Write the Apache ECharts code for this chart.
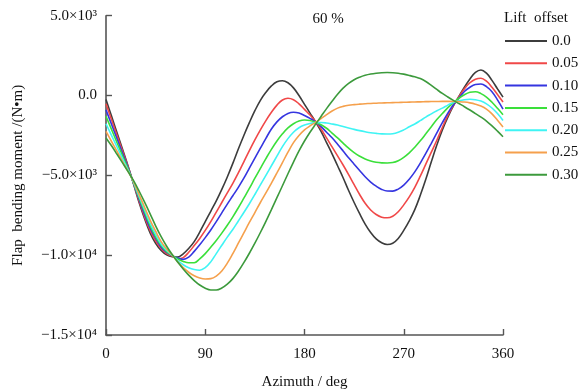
<!DOCTYPE html>
<html>
<head>
<meta charset="utf-8">
<script src="https://cdn.jsdelivr.net/npm/echarts@6/dist/echarts.min.js"></script>
<style>html,body{margin:0;padding:0;background:#fff}#c{width:588px;height:391px}</style>
</head>
<body>
<div id="c"></div>
<script>
const azimuth = [0,5,10,15,20,25,30,35,40,45,50,55,60,65,70,75,80,85,90,95,100,105,110,115,120,125,130,135,140,145,150,155,160,165,170,175,180,185,190,195,200,205,210,215,220,225,230,235,240,245,250,255,260,265,270,275,280,285,290,295,300,305,310,315,320,325,330,335,340,345,350,355,360];
const lift00 = [-250,-1290,-2330,-3370,-4420,-5550,-6700,-7720,-8600,-9250,-9700,-9980,-10100,-10120,-9920,-9580,-9150,-8550,-7900,-7250,-6600,-5880,-5100,-4250,-3350,-2500,-1700,-950,-300,200,600,860,930,800,480,0,-550,-1100,-1650,-2250,-2950,-3650,-4400,-5150,-5950,-6700,-7400,-8050,-8580,-8980,-9220,-9330,-9250,-8950,-8450,-7850,-7150,-6250,-5250,-4150,-3100,-2150,-1350,-650,-60,520,1040,1450,1600,1400,950,420,-100];
const lift05 = [-520,-1505,-2490,-3475,-4460,-5530,-6600,-7600,-8450,-9100,-9600,-9900,-10060,-10220,-10150,-9820,-9400,-8950,-8450,-7900,-7300,-6700,-6100,-5500,-4850,-4150,-3450,-2780,-2150,-1570,-1050,-600,-280,-170,-260,-520,-870,-1220,-1620,-2100,-2650,-3220,-3780,-4350,-4950,-5580,-6200,-6750,-7170,-7450,-7620,-7660,-7560,-7280,-6850,-6350,-5750,-5050,-4300,-3550,-2800,-2000,-1250,-620,-80,420,800,1020,1085,900,520,60,-400];
const lift10 = [-900,-1800,-2710,-3620,-4530,-5500,-6500,-7450,-8300,-8950,-9500,-9830,-10030,-10180,-10260,-10120,-9760,-9350,-8900,-8420,-7900,-7350,-6800,-6280,-5750,-5180,-4550,-3920,-3300,-2680,-2100,-1650,-1330,-1120,-1050,-1100,-1250,-1430,-1650,-1950,-2300,-2650,-3050,-3470,-3900,-4300,-4700,-5090,-5420,-5680,-5880,-5980,-5985,-5860,-5610,-5240,-4780,-4230,-3630,-2990,-2340,-1700,-1100,-580,-150,250,520,690,720,560,240,-270,-850];
const lift15 = [-1300,-2120,-2950,-3770,-4590,-5480,-6400,-7300,-8150,-8850,-9400,-9780,-10010,-10240,-10390,-10470,-10470,-10230,-9900,-9500,-9080,-8620,-8130,-7600,-7030,-6430,-5820,-5180,-4560,-3950,-3370,-2850,-2400,-2030,-1770,-1600,-1530,-1560,-1670,-1830,-2050,-2350,-2650,-2980,-3300,-3580,-3800,-3980,-4100,-4180,-4220,-4230,-4200,-4080,-3870,-3590,-3240,-2840,-2400,-1950,-1500,-1130,-760,-450,-170,50,200,240,120,-100,-420,-800,-1200];
const lift20 = [-1770,-2500,-3220,-3950,-4670,-5450,-6300,-7150,-8000,-8700,-9300,-9700,-10000,-10340,-10600,-10790,-10900,-10940,-10780,-10420,-9900,-9380,-8870,-8390,-7860,-7330,-6780,-6200,-5600,-5000,-4400,-3800,-3200,-2700,-2300,-2020,-1850,-1750,-1700,-1690,-1720,-1780,-1850,-1940,-2030,-2120,-2200,-2270,-2330,-2370,-2400,-2410,-2390,-2300,-2150,-1960,-1780,-1570,-1350,-1150,-950,-790,-600,-430,-330,-260,-230,-260,-350,-520,-780,-1130,-1560];
const lift25 = [-2250,-2880,-3500,-4130,-4750,-5400,-6200,-7000,-7800,-8500,-9150,-9620,-9980,-10420,-10780,-11070,-11290,-11430,-11490,-11470,-11310,-10990,-10500,-9900,-9250,-8600,-7950,-7330,-6700,-6100,-5480,-4850,-4200,-3550,-2950,-2500,-2150,-1900,-1680,-1450,-1200,-970,-790,-680,-610,-570,-540,-515,-495,-480,-465,-455,-445,-435,-425,-415,-405,-395,-385,-378,-372,-368,-368,-372,-385,-410,-460,-540,-660,-850,-1150,-1550,-1975];
const lift30 = [-2660,-3150,-3680,-4220,-4770,-5330,-5980,-6680,-7410,-8160,-8840,-9440,-9960,-10430,-10860,-11250,-11590,-11870,-12070,-12180,-12180,-12060,-11820,-11470,-11010,-10470,-9880,-9250,-8580,-7880,-7150,-6400,-5650,-4900,-4170,-3470,-2850,-2300,-1800,-1310,-820,-360,80,460,760,990,1150,1270,1350,1400,1430,1440,1430,1400,1340,1260,1170,1060,880,640,380,130,-90,-300,-500,-700,-910,-1130,-1350,-1600,-1900,-2230,-2580];

const seriesNames = ['0.0','0.05','0.10','0.15','0.20','0.25','0.30'];
const seriesValues = [lift00, lift05, lift10, lift15, lift20, lift25, lift30];
const seriesColors = ['#3c3c3c','#f04848','#3535e0','#3adf3a','#3ff4f4','#f5a04c','#3c9a3c'];

const xTicks = [0, 90, 180, 270, 360];
const yTickValues = [5000, 0, -5000, -10000, -15000];
const yTickLabels = ['5.0×10³', '0.0', '−5.0×10³', '−1.0×10⁴', '−1.5×10⁴'];

const font = 'Liberation Serif, Times New Roman, serif';
const chart = echarts.init(document.getElementById('c'), null, {renderer: 'canvas'});

chart.setOption({
  animation: false,
  backgroundColor: '#fff',
  title: [
    {text: '60 %', left: 323, top: 7, textAlign: 'center', textStyle: {fontFamily: font, fontSize: 15, fontWeight: 'normal', color: '#111'}},
    {text: 'Lift  offset', left: 499, top: 6, textStyle: {fontFamily: font, fontSize: 15, fontWeight: 'normal', color: '#111'}}
  ],
  legend: {
    orient: 'vertical',
    left: 500,
    top: 28,
    icon: 'rect',
    itemWidth: 42,
    itemHeight: 2,
    itemGap: 6.3,
    textStyle: {fontFamily: font, fontSize: 15, color: '#111', lineHeight: 16},
    data: seriesNames
  },
  grid: {left: 106, right: 85, top: 15.7, bottom: 56, containLabel: false, outerBoundsMode: 'none'},
  xAxis: {
    type: 'value', min: 0, max: 360, interval: 90,
    name: 'Azimuth / deg', nameLocation: 'middle', nameGap: 40,
    nameTextStyle: {fontFamily: font, fontSize: 15, color: '#111'},
    axisLine: {show: true, onZero: false, lineStyle: {color: '#555', width: 1.6}},
    axisTick: {show: true, inside: true, length: 6, lineStyle: {color: '#555', width: 1.4}},
    axisLabel: {fontFamily: font, fontSize: 15, color: '#111', margin: 12,
      formatter: v => xTicks.includes(v) ? String(v) : ''},
    splitLine: {show: false}
  },
  yAxis: {
    type: 'value', min: -15000, max: 5000, interval: 5000,
    name: 'Flap  bending moment /(N•m)', nameLocation: 'middle', nameGap: 80,
    nameTextStyle: {fontFamily: font, fontSize: 15, color: '#111'},
    axisLine: {show: true, lineStyle: {color: '#555', width: 1.6}},
    axisTick: {show: true, inside: true, length: 6, lineStyle: {color: '#555', width: 1.4}},
    axisLabel: {fontFamily: font, fontSize: 15, color: '#111', margin: 9,
      formatter: v => { const i = yTickValues.indexOf(v); return i >= 0 ? yTickLabels[i] : ''; }},
    splitLine: {show: false}
  },
  series: seriesNames.map((n, i) => ({
    name: n,
    type: 'line',
    smooth: 0.4,
    symbol: 'none',
    color: seriesColors[i],
    lineStyle: {width: 1.6, color: seriesColors[i]},
    data: azimuth.map((a, k) => [a, seriesValues[i][k]])
  }))
});
</script>
</body>
</html>
